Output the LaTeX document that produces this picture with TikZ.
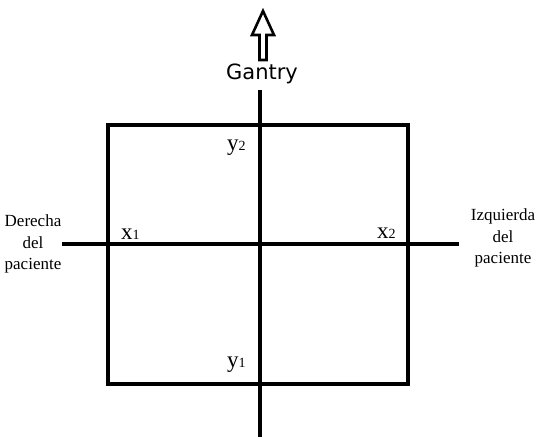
\documentclass[tikz,border=0pt]{standalone}
\usepackage{fontspec}
\setmainfont{Liberation Serif}
\newfontfamily\gantryfont{DejaVu Sans}
\newcommand\lblsub[1]{{\fontsize{14}{15}\selectfont #1}}
\begin{document}
\begin{tikzpicture}[x=1pt,y=-1pt,
  axis/.style={line width=3.2pt},
  box/.style={line width=3.2pt},
  side/.style={font=\fontsize{17}{21.5}\selectfont, align=center},
  lab/.style={font=\fontsize{23}{24}\selectfont, inner sep=0pt}]
\useasboundingbox (0,0) rectangle (539,438);
% box
\draw[box] (108,125) rectangle (408,384);
% axes
\coordinate (vt) at (260,90);
\coordinate (vb) at (260,437);
\coordinate (hl) at (62,244);
\coordinate (hr) at (459,244);
\draw[axis] (vt) -- (vb);
\draw[axis] (hl) -- (hr);
% arrow
\draw[line width=2.6pt, line join=miter] (259.5,60) -- (259.5,35) -- (252,35) -- (263,11) -- (274,35) -- (266.5,35) -- (266.5,60) -- cycle;
\node[font=\gantryfont\fontsize{21}{22}\selectfont] (g) at (262,74) {Gantry};
% side labels
\node[side] (dp) at (33,244) {Derecha\\del\\paciente};
\node[side] (ip) at (503,238) {Izquierda\\del\\paciente};
% point labels
\node[lab, anchor=base west] (x1) at (121,240) {x\lblsub{1}};
\node[lab, anchor=base west] (x2) at (377,239) {x\lblsub{2}};
\node[lab, anchor=base west] (y2) at (227,151) {y\lblsub{2}};
\node[lab, anchor=base west] (y1) at (227,368) {y\lblsub{1}};
\end{tikzpicture}
\end{document}
